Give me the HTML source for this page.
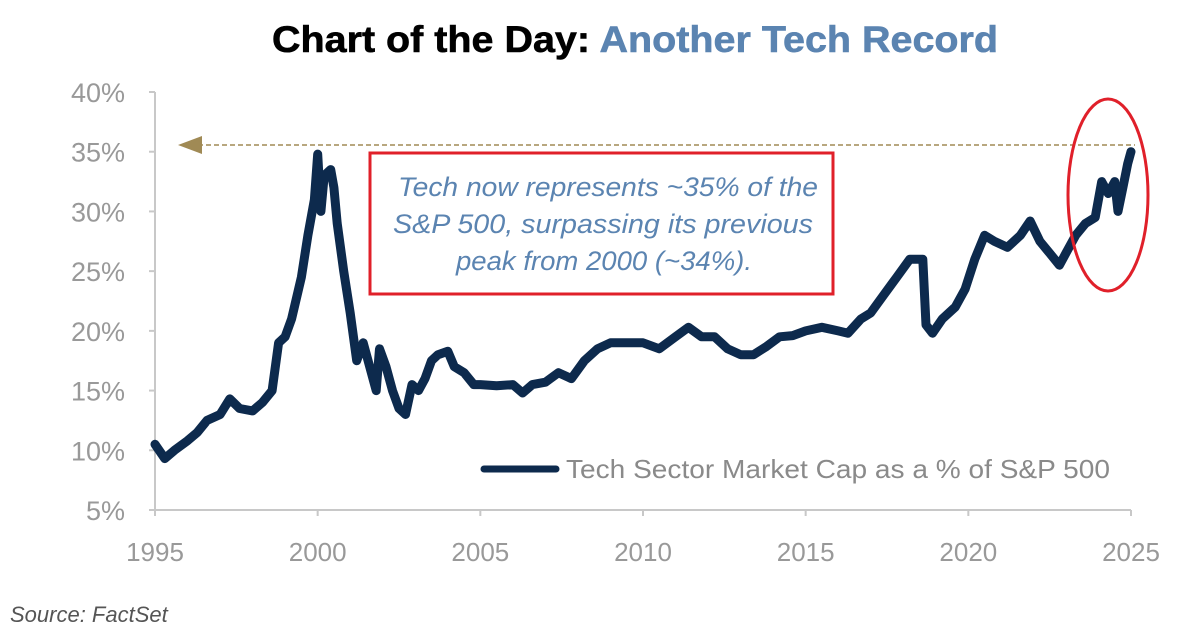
<!DOCTYPE html>
<html><head><meta charset="utf-8"><style>
html,body{margin:0;padding:0;background:#fff;}
svg{display:block;font-family:"Liberation Sans",sans-serif;}
</style></head><body>
<svg id="chart" width="1200" height="638" viewBox="0 0 1200 638" xmlns="http://www.w3.org/2000/svg">
<text x="272" y="52" font-size="37" font-weight="bold" textLength="726" lengthAdjust="spacingAndGlyphs" stroke-width="0.6"><tspan fill="#000" stroke="#000">Chart of the Day: </tspan><tspan fill="#5b84b1" stroke="#5b84b1">Another Tech Record</tspan></text>
<g id="axes"></g>
<line x1="198" y1="145" x2="1135" y2="145" stroke="#a08a55" stroke-width="1.5" stroke-dasharray="5,3"/>
<polygon points="178,145 202,136 202,154" fill="#a08a55"/>
<path id="series" fill="none" stroke="#0d2a4d" stroke-width="9" stroke-linejoin="round" stroke-linecap="round"/>
<rect x="370" y="153" width="463" height="141" fill="none" stroke="#e0202a" stroke-width="3"/>
<g fill="#5b84b1" font-size="27" font-style="italic" text-anchor="middle">
<text x="608" y="196" textLength="420" lengthAdjust="spacingAndGlyphs">Tech now represents ~35% of the</text>
<text x="603" y="233" textLength="420" lengthAdjust="spacingAndGlyphs">S&amp;P 500, surpassing its previous</text>
<text x="604" y="270" textLength="296" lengthAdjust="spacingAndGlyphs">peak from 2000 (~34%).</text>
</g>
<ellipse cx="1108" cy="195" rx="40" ry="96" fill="none" stroke="#e0202a" stroke-width="3"/>
<line x1="484" y1="469" x2="556" y2="469" stroke="#0d2a4d" stroke-width="7" stroke-linecap="round"/>
<text x="566" y="478" font-size="26" fill="#8a8a8a" textLength="544" lengthAdjust="spacingAndGlyphs">Tech Sector Market Cap as a % of S&amp;P 500</text>
<text x="10" y="622" font-size="22" font-style="italic" fill="#555">Source: FactSet</text>
</svg>
<script>
const years=[1995.0,1995.3,1995.6,1996.0,1996.3,1996.6,1997.0,1997.3,1997.6,1998.0,1998.3,1998.6,1998.8,1999.0,1999.2,1999.5,1999.7,1999.9,2000.0,2000.1,2000.2,2000.4,2000.5,2000.6,2000.8,2001.0,2001.2,2001.4,2001.6,2001.8,2001.9,2002.1,2002.3,2002.5,2002.7,2002.9,2003.1,2003.3,2003.5,2003.7,2004.0,2004.2,2004.5,2004.8,2005.0,2005.5,2006.0,2006.3,2006.6,2007.0,2007.4,2007.8,2008.2,2008.6,2009.0,2009.5,2010.0,2010.5,2011.0,2011.4,2011.8,2012.2,2012.6,2013.0,2013.4,2013.8,2014.2,2014.6,2015.0,2015.5,2016.0,2016.3,2016.7,2017.0,2017.4,2017.8,2018.2,2018.6,2018.7,2018.9,2019.2,2019.6,2019.9,2020.2,2020.5,2020.8,2021.2,2021.6,2021.9,2022.2,2022.5,2022.8,2023.0,2023.3,2023.6,2023.9,2024.1,2024.3,2024.5,2024.6,2024.75,2024.9,2025.0];
const share=[10.5,9.3,10.0,10.8,11.5,12.5,13.0,14.3,13.5,13.3,14.0,15.0,19,19.5,21,24.5,28,31,34.8,30,33,33.5,32,29,25,21.5,17.5,19,17,15,18.5,17,15,13.5,13,15.5,15,16,17.5,18,18.3,17,16.5,15.5,15.5,15.4,15.5,14.8,15.5,15.7,16.5,16,17.5,18.5,19.0,19,19,18.5,19.5,20.3,19.5,19.5,18.5,18,18,18.7,19.5,19.6,20,20.3,20,19.8,21,21.5,23,24.5,26,26,20.5,19.8,21,22,23.5,26,28,27.5,27.0,28,29.2,27.5,26.5,25.5,26.5,28,29,29.5,32.5,31.5,32.5,30,32,34,35];
const yTicks=[5,10,15,20,25,30,35,40];
const xTicks=[1995,2000,2005,2010,2015,2020,2025];
const X=v=>155+(v-1995)*(1131-155)/30;
const Y=v=>510-(v-5)*(510-92)/35;
const NS="http://www.w3.org/2000/svg";
const axes=document.getElementById('axes');
function mk(tag,attrs,parent){const e=document.createElementNS(NS,tag);for(const k in attrs)e.setAttribute(k,attrs[k]);parent.appendChild(e);return e;}
let a=mk('line',{x1:155,y1:92,x2:155,y2:510,stroke:'#c8c8c8','stroke-width':2},axes);


a=mk('line',{x1:155,y1:510,x2:1131,y2:510,stroke:'#c8c8c8','stroke-width':2},axes);


yTicks.forEach(t=>{
  mk('line',{x1:149,y1:Y(t),x2:155,y2:Y(t),stroke:'#c8c8c8','stroke-width':2},axes);
  const tx=mk('text',{x:125,y:Y(t)+10,'font-size':27,fill:'#999','text-anchor':'end'},axes);
  tx.textContent=t+'%';
  
  
});
xTicks.forEach(t=>{
  mk('line',{x1:X(t),y1:510,x2:X(t),y2:516,stroke:'#c8c8c8','stroke-width':2},axes);
  const tx=mk('text',{x:X(t),y:561,'font-size':26,fill:'#999','text-anchor':'middle'},axes);
  tx.textContent=t;
  
  
});
document.getElementById('series').setAttribute('d',years.map((y,i)=>(i?'L':'M')+X(y).toFixed(1)+','+Y(share[i]).toFixed(1)).join(''));
</script>
</body></html>
